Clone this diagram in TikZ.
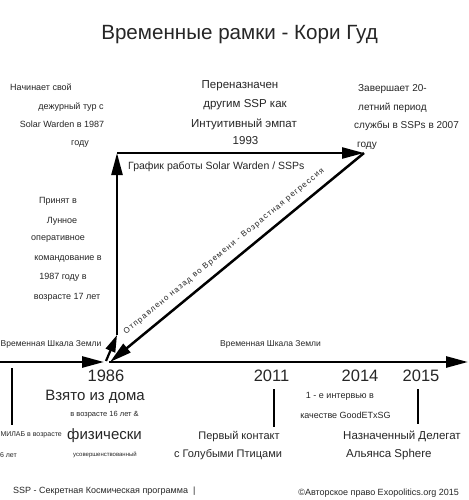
\documentclass[tikz,border=0pt]{standalone}
\usepackage{fontspec}
\setmainfont{Liberation Sans}
\usetikzlibrary{arrows.meta}
\newcommand\fsz[1]{\fontsize{#1}{#1}\selectfont}
\begin{document}
\begin{tikzpicture}[x=1pt,y=-1pt,
  txt/.style={inner sep=0pt, text=black!85},
  arr/.style={line width=2.5pt, black, -{Triangle[length=22pt,width=11pt]}},
  smallarr/.style={line width=2.2pt, black, -{Triangle[length=17pt,width=10pt]}},
  tick/.style={line width=2.4pt, black}]
\useasboundingbox (0,0) rectangle (468,500);
\fill[white] (0,0) rectangle (468,500);

% key points
\coordinate (axL) at (0,362);
\coordinate (o) at (104,362);
\coordinate (axS) at (109,362);
\coordinate (axE) at (468,362);
\coordinate (vb) at (117,335);
\coordinate (vt) at (117,153);
\coordinate (tr) at (364,153);
\coordinate (dl) at (110,362);
\coordinate (sa) at (106,361);

% timeline
\draw[arr,line width=2.7pt] (axL) -- (o);
\draw[arr,line width=2.7pt] (axS) -- (axE);
% Solar Warden frame
\draw[smallarr] (sa) -- (vb);
\draw[arr] (vb) -- (vt);
\draw[arr] (vt) -- (tr);
\draw[arr] (tr) -- (dl);

% ticks
\coordinate (k1a) at (12,368); \coordinate (k1b) at (12,425);
\coordinate (k2a) at (274,389); \coordinate (k2b) at (274,427);
\coordinate (k3a) at (418,389); \coordinate (k3b) at (418,424);
\draw[tick] (k1a) -- (k1b);
\draw[tick] (k2a) -- (k2b);
\draw[tick] (k3a) -- (k3b);

% title
\node[txt, font=\fsz{20.6}] (title) at (239.5,35) {Временные рамки - Кори Гуд};

% left top block
\node[txt, font=\fsz{9}] (a1) at (41,87) {Начинает свой};
\node[txt, font=\fsz{9}] (a2) at (71,107) {дежурный тур с};
\node[txt, font=\fsz{9}] (a3) at (62,124) {Solar Warden в 1987};
\node[txt, font=\fsz{9}] (a4) at (80,144) {году};

% middle top block
\node[txt, font=\fsz{11.5}] (b1) at (240,86) {Переназначен};
\node[txt, font=\fsz{11.5}] (b2) at (245,105) {другим SSP как};
\node[txt, font=\fsz{11.5}] (b3) at (244,124) {Интуитивный эмпат};
\node[txt, font=\fsz{11.5}] (b4) at (245.5,141) {1993};

% right top block
\node[txt, font=\fsz{10}, anchor=west] (c1) at (358,89) {Завершает 20-};
\node[txt, font=\fsz{10}, anchor=west] (c2) at (358,108) {летний период};
\node[txt, font=\fsz{10}, anchor=west] (c3) at (354,126) {службы в SSPs в 2007};
\node[txt, font=\fsz{10}, anchor=west] (c4) at (357,146) {году};

\node[txt, font=\fsz{10.5}, anchor=west] (sw) at (128,167) {График работы Solar Warden / SSPs};

% left middle block
\node[txt, font=\fsz{9}] (d1) at (58,201) {Принят в};
\node[txt, font=\fsz{9}] (d2) at (62,221) {Лунное};
\node[txt, font=\fsz{9}] (d3) at (58,239) {оперативное};
\node[txt, font=\fsz{9}] (d4) at (68,259) {командование в};
\node[txt, font=\fsz{9}] (d5) at (63,277) {1987 году в};
\node[txt, font=\fsz{9}] (d6) at (67,297) {возрасте 17 лет};

% earth timeline labels
\node[txt, font=\fsz{8.5}, anchor=west] (e1) at (0.5,344) {Временная Шкала Земли};
\node[txt, font=\fsz{8.5}, anchor=west] (e2) at (220,344) {Временная Шкала Земли};

% diagonal label
\node[txt, font=\fsz{8}\addfontfeature{LetterSpace=15}, rotate=39.4] (diag) at (224,251.5)
  {Отправлено назад во Времени - Возрастная регрессия};

% years
\node[txt, font=\fsz{16.5}] (y86) at (106,376) {1986};
\node[txt, font=\fsz{16.5}] (y11) at (271.5,376) {2011};
\node[txt, font=\fsz{16.5}] (y14) at (360,376) {2014};
\node[txt, font=\fsz{16.5}] (y15) at (421,376) {2015};

% 1986 texts
\node[txt, font=\fsz{15}] (f1) at (95,397) {Взято из дома};
\node[txt, font=\fsz{7.5}] (f2) at (104.5,415) {в возрасте 16 лет \&};
\node[txt, font=\fsz{15}] (f3) at (104.5,436) {физически};
\node[txt, font=\fsz{6}] (f4) at (105,455) {усовершенствованный};

% MILAB (cut at left edge)
\node[txt, font=\fsz{7}, anchor=east] (m1) at (62,435) {МИЛАБ в возрасте};
\node[txt, font=\fsz{7}, anchor=east] (m2) at (17,455) {16 лет};

% 2011
\node[txt, font=\fsz{11}] (g1) at (239,437) {Первый контакт};
\node[txt, font=\fsz{11}] (g2) at (228,455) {с Голубыми Птицами};

% 2014
\node[txt, font=\fsz{9}] (h1) at (340,396) {1 - е интервью в};
\node[txt, font=\fsz{9}] (h2) at (345.5,415) {качестве GoodETxSG};

% 2015
\node[txt, font=\fsz{11.5}, anchor=west] (i1) at (343,436) {Назначенный Делегат};
\node[txt, font=\fsz{11.5}, anchor=west] (i2) at (346,455) {Альянса Sphere};

% footer
\node[txt, font=\fsz{9}, anchor=west] (ft1) at (13,491) {SSP - Секретная Космическая программа \ |};
\node[txt, font=\fsz{9}, anchor=east] (ft2) at (459,493) {©Авторское право Exopolitics.org 2015};
\end{tikzpicture}
\end{document}
